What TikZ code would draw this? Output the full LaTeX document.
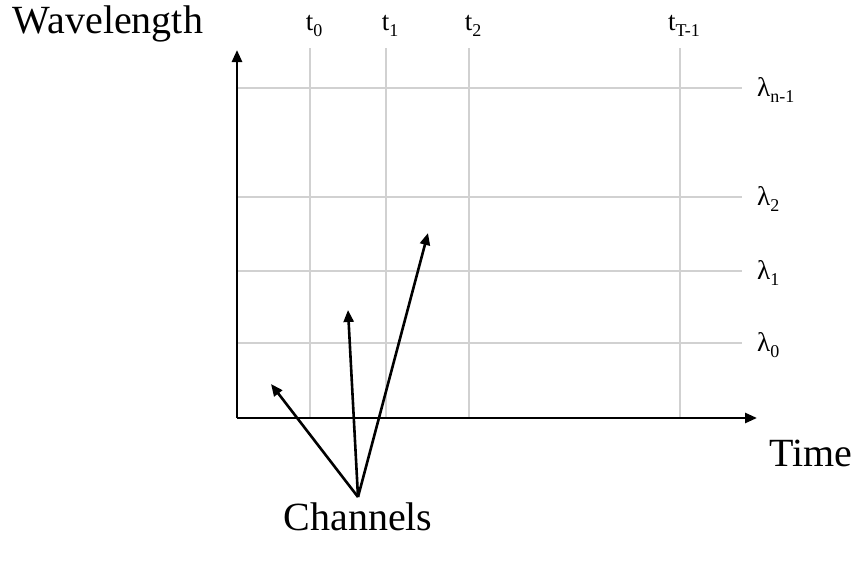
\documentclass[tikz,border=0pt]{standalone}
\usepackage{fontspec}
\setmainfont{Liberation Serif}
\usetikzlibrary{arrows.meta}
\newcommand{\lowsub}[1]{\raisebox{-0.55ex}{\fontsize{18}{19}\selectfont #1}}
\tikzset{
    axis/.style={line width=2.6pt, -{Triangle[length=12pt, width=10pt]}},
    gridline/.style={line width=1.6pt, black!18},
    chan/.style={line width=2.6pt, -{Triangle[length=12pt, width=10pt]}},
    big/.style={font=\fontsize{40}{44}\selectfont, inner sep=0pt},
    tick/.style={font=\fontsize{27}{29}\selectfont, inner sep=0pt}
}

\begin{document}
\begin{tikzpicture}[x=1pt, y=-1pt]
\useasboundingbox (0,0) rectangle (859,565);
% grid
\foreach \x/\name/\lab in {310/t0/t\lowsub{0}, 386/t1/t\lowsub{1}, 469/t2/t\lowsub{2}, 680/tT/t\lowsub{T-1}} {
    \node[tick, anchor=base] (\name) at (\x+4,30) {\lab};
    \draw[gridline] (\x,48) -- (\x,418);
}
\foreach \y/\name/\lab in {88/ln/λ\lowsub{n-1}, 197/l2/λ\lowsub{2}, 271/l1/λ\lowsub{1}, 343/l0/λ\lowsub{0}} {
    \draw[gridline] (237,\y) -- (742,\y);
    \node[tick, anchor=base west] (\name) at (757,\y+8) {\lab};
}
% axes
\coordinate (O) at (237,418);
\coordinate (ytop) at (237,50);
\coordinate (xend) at (757,418);
\draw[axis] (O) -- (ytop);
\draw[axis] (O) -- (xend);
\node[big, anchor=base] (wave) at (108,33) {Wavelength};
\node[big, anchor=base] (time) at (811,466) {Time};
% channels
\node[big, anchor=base] (chanlab) at (358,530) {Channels};
\coordinate (c0) at (358,497);
\coordinate (a0) at (271,384);
\coordinate (a1) at (348,310);
\coordinate (a2) at (428,233);
\draw[chan] (c0) -- (a0);
\draw[chan] (c0) -- (a1);
\draw[chan] (c0) -- (a2);
\end{tikzpicture}
\end{document}
